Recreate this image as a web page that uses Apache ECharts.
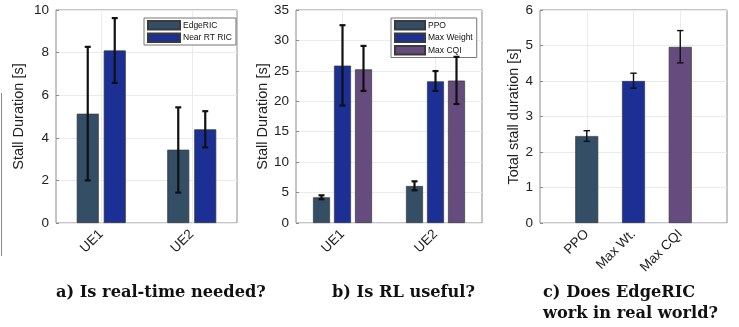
<!DOCTYPE html>
<html>
<head>
<meta charset="utf-8">
<script src="https://cdn.jsdelivr.net/npm/echarts@6/dist/echarts.min.js"></script>
<style>html,body{margin:0;padding:0;background:#fff;}#c{width:739px;height:327px;}</style>
</head>
<body>
<div id="c"></div>
<script>
// ---- Data ----
const catsA = ['UE1', 'UE2'];
const edgeRIC = [5.13, 3.44];
const edgeRICLo = [2.0, 1.43];
const edgeRICHi = [8.27, 5.43];
const nearRT = [8.1, 4.4];
const nearRTLo = [6.58, 3.55];
const nearRTHi = [9.62, 5.25];

const catsB = ['UE1', 'UE2'];
const ppo = [4.22, 6.08];
const ppoLo = [3.9, 5.37];
const ppoHi = [4.55, 6.85];
const maxWeight = [25.86, 23.28];
const maxWeightLo = [19.3, 21.7];
const maxWeightHi = [32.5, 24.97];
const maxCQI = [25.25, 23.4];
const maxCQILo = [21.7, 19.55];
const maxCQIHi = [29.1, 27.3];

const catsC = ['PPO', 'Max Wt.', 'Max CQI'];
const totalStall = [2.45, 4.0, 4.96];
const totalStallLo = [2.3, 3.8, 4.51];
const totalStallHi = [2.6, 4.22, 5.42];

const yTicksA = { min: 0, max: 10, interval: 2 };
const yTicksB = { min: 0, max: 35, interval: 5 };
const yTicksC = { min: 0, max: 6, interval: 1 };

const captionA = 'a) Is real-time needed?';
const captionB = 'b) Is RL useful?';
const captionC = 'c) Does EdgeRIC\nwork in real world?';

// ---- Styles ----
const C_SLATE = '#344E66';
const C_BLUE = '#1B2F94';
const C_PURPLE = '#654B7E';
const AX = '#8c8c8c';
const GRIDC = '#ebebeb';
const FONT = 'Liberation Sans, Arial, Helvetica, sans-serif';
const CAPFONT = 'bold 16.2px "DejaVu Serif", serif';

// Slot helpers: groups A/B sit on slots 1 and 3 of a 5-slot axis (xlim 0.5..2.5 step 0.5)
const slotCatsAB = cats => ['', cats[0], '', cats[1], ''];
const slotData = vals => ['-', vals[0], '-', vals[1], '-'];
const slotIdxAB = [1, 3];
// group C on slots 1..3 of a 5-slot axis (xlim 0..4)
const slotCatsC = cats => [''].concat(cats, ['']);
const slotDataC = vals => ['-'].concat(vals, ['-']);

function xAxisCfg(gridIndex, data, splitFn) {
  return {
    type: 'category', gridIndex, data, boundaryGap: false,
    axisLine: { show: false },
    axisTick: { show: false },
    axisLabel: { interval: 0, rotate: 45, fontSize: 13.5, color: '#222', fontFamily: FONT, margin: 9 },
    splitLine: { show: true, interval: splitFn, lineStyle: { color: GRIDC, width: 1 } }
  };
}
function yAxisCfg(gridIndex, t, name, nameGap) {
  return {
    type: 'value', gridIndex, min: t.min, max: t.max, interval: t.interval,
    name, nameLocation: 'middle', nameGap,
    nameTextStyle: { fontSize: 14.5, color: '#222', fontFamily: FONT },
    axisLine: { show: false },
    axisTick: { show: true, inside: true, length: 3, lineStyle: { color: AX } },
    axisLabel: { fontSize: 13.5, color: '#222', fontFamily: FONT, margin: 7 },
    splitLine: { show: true, lineStyle: { color: GRIDC, width: 1 } }
  };
}
function barSeries(name, idx, data, color, barWidth, gapPx) {
  return {
    type: 'bar', name, xAxisIndex: idx, yAxisIndex: idx, data,
    barWidth, barGap: (gapPx / barWidth * 100) + '%',
    itemStyle: { color, borderColor: '#3a3a3a', borderWidth: 0.7 },
    emphasis: { disabled: true }, z: 2
  };
}
function errSeries(idx, slots, lo, hi, offset, lw, cap) {
  return {
    type: 'custom', xAxisIndex: idx, yAxisIndex: idx, z: 4, silent: true,
    data: slots.map((s, i) => [s, lo[i], hi[i]]),
    renderItem: function (params, api) {
      const pLo = api.coord([api.value(0), api.value(1)]);
      const pHi = api.coord([api.value(0), api.value(2)]);
      const x = pLo[0] + offset;
      const st = { stroke: '#111', lineWidth: lw };
      return {
        type: 'group', children: [
          { type: 'line', shape: { x1: x, y1: pLo[1], x2: x, y2: pHi[1] }, style: st },
          { type: 'line', shape: { x1: x - cap, y1: pLo[1], x2: x + cap, y2: pLo[1] }, style: st },
          { type: 'line', shape: { x1: x - cap, y1: pHi[1], x2: x + cap, y2: pHi[1] }, style: st }
        ]
      };
    }
  };
}
function legendCfg(left, top, data, iw) {
  return {
    left, top, orient: 'vertical', data, icon: 'rect',
    itemWidth: iw, itemHeight: 8.5, itemGap: 2,
    padding: [2, 4, 2, 3], borderColor: '#777', borderWidth: 1, backgroundColor: '#fff',
    selectedMode: false,
    textStyle: { fontSize: 8.5, color: '#111', fontFamily: FONT, padding: [0, 0, 0, -2] }
  };
}

const bwA = 22, gA = 5, bwB = 17, gB = 4, bwC = 23;
const stepA = bwA + gA, stepB = bwB + gB;

const option = {
  animation: false,
  backgroundColor: '#fff',
  grid: [
    { left: 56, top: 10, width: 181, height: 213, show: true, borderColor: AX, borderWidth: 1, backgroundColor: 'transparent' },
    { left: 296, top: 10, width: 186, height: 213, show: true, borderColor: AX, borderWidth: 1, backgroundColor: 'transparent' },
    { left: 540, top: 10, width: 187, height: 213, show: true, borderColor: AX, borderWidth: 1, backgroundColor: 'transparent' }
  ],
  xAxis: [
    xAxisCfg(0, slotCatsAB(catsA), i => i % 2 === 1),
    xAxisCfg(1, slotCatsAB(catsB), i => i % 2 === 1),
    xAxisCfg(2, slotCatsC(catsC), i => i > 0 && i < 4)
  ],
  yAxis: [
    yAxisCfg(0, yTicksA, 'Stall Duration [s]', 30),
    yAxisCfg(1, yTicksB, 'Stall Duration [s]', 25),
    yAxisCfg(2, yTicksC, 'Total stall duration [s]', 17)
  ],
  legend: [
    legendCfg(144, 18, ['EdgeRIC', 'Near RT RIC'], 32),
    legendCfg(391, 18, ['PPO', 'Max Weight', 'Max CQI'], 30)
  ],
  series: [
    barSeries('EdgeRIC', 0, slotData(edgeRIC), C_SLATE, bwA, gA),
    barSeries('Near RT RIC', 0, slotData(nearRT), C_BLUE, bwA, gA),
    errSeries(0, slotIdxAB, edgeRICLo, edgeRICHi, -stepA / 2, 2.2, 3),
    errSeries(0, slotIdxAB, nearRTLo, nearRTHi, stepA / 2, 2.2, 3),

    barSeries('PPO', 1, slotData(ppo), C_SLATE, bwB, gB),
    barSeries('Max Weight', 1, slotData(maxWeight), C_BLUE, bwB, gB),
    barSeries('Max CQI', 1, slotData(maxCQI), C_PURPLE, bwB, gB),
    errSeries(1, slotIdxAB, ppoLo, ppoHi, -stepB, 2.2, 3),
    errSeries(1, slotIdxAB, maxWeightLo, maxWeightHi, 0, 2.2, 3),
    errSeries(1, slotIdxAB, maxCQILo, maxCQIHi, stepB, 2.2, 3),

    {
      type: 'bar', name: 'Total', xAxisIndex: 2, yAxisIndex: 2, barWidth: bwC,
      data: slotDataC(totalStall).map((v, i) => v === '-' ? '-' : { value: v, itemStyle: { color: [C_SLATE, C_BLUE, C_PURPLE][i - 1] } }),
      itemStyle: { borderColor: '#3a3a3a', borderWidth: 0.7 }, emphasis: { disabled: true }
    },
    errSeries(2, [1, 2, 3], totalStallLo, totalStallHi, 0, 1.4, 3.2)
  ],
  graphic: [
    { type: 'line', shape: { x1: 1.5, y1: 93, x2: 1.5, y2: 256 }, style: { stroke: '#888', lineWidth: 1 } },
    { type: 'text', left: 56, top: 285, style: { text: captionA, font: CAPFONT, fill: '#111' } },
    { type: 'text', left: 332, top: 285, style: { text: captionB, font: CAPFONT, fill: '#111' } },
    { type: 'text', left: 543, top: 283, style: { text: captionC, font: CAPFONT, lineHeight: 20.5, fill: '#111' } }
  ]
};
const chart = echarts.init(document.getElementById('c'), null, { renderer: 'canvas' });
chart.setOption(option);
</script>
</body>
</html>
